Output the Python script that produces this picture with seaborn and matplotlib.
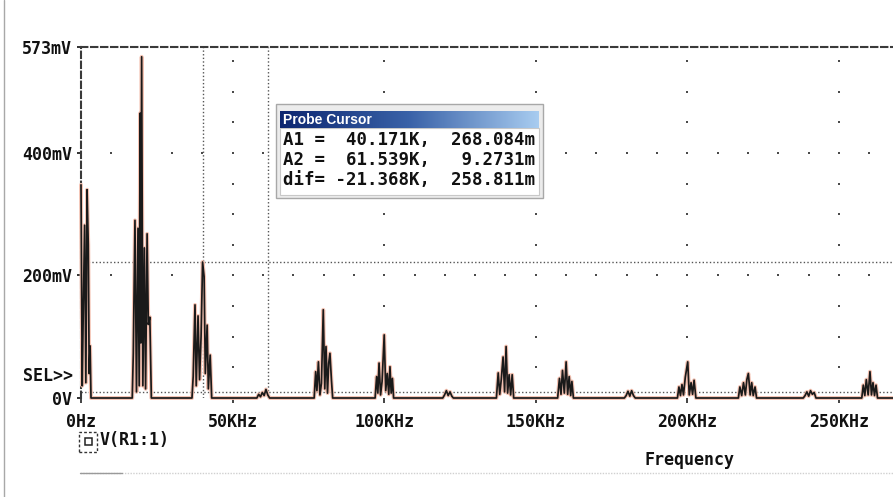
import numpy as np
import pandas as pd
import matplotlib
matplotlib.use("Agg")
import matplotlib.pyplot as plt
import seaborn as sns
from matplotlib.patches import Rectangle
from matplotlib.lines import Line2D
from matplotlib.colors import LinearSegmentedColormap

# FFT trace of V(R1:1): (frequency kHz, magnitude mV)
peak_dc = [(0.0, 348), (0.4, 20), (0.8, 160), (1.2, 282), (1.6, 25), (2.0, 340),
           (2.4, 250), (2.7, 40), (3.0, 85), (3.3, 0)]
peak_20k = [(16.9, 0), (17.25, 73), (17.8, 290), (18.3, 10), (18.8, 277), (19.2, 20),
            (19.5, 465), (19.75, 90), (20.0, 557), (20.4, 20), (20.9, 245), (21.3, 15),
            (21.8, 268), (22.2, 120), (22.7, 132), (23.2, 0)]
peak_40k = [(36.6, 0), (37.0, 35), (37.6, 152), (38.0, 20), (38.6, 134), (39.1, 30),
            (39.6, 100), (40.1, 222), (40.6, 198), (41.0, 40), (41.6, 119), (42.0, 15),
            (42.6, 70), (43.1, 0)]
peak_60k = [(58.0, 0), (58.6, 6), (59.2, 2), (59.8, 9), (60.4, 4), (61.0, 14), (61.6, 5), (62.2, 0)]
peak_80k = [(76.9, 0), (77.4, 43), (77.8, 12), (78.3, 59), (78.8, 5), (79.3, 24), (79.9, 144),
            (80.4, 15), (80.8, 84), (81.3, 8), (81.7, 57), (82.1, 73), (82.6, 29), (83.0, 0)]
peak_100k = [(97.0, 0), (97.5, 35), (97.9, 8), (98.3, 57), (98.8, 5), (99.3, 27), (100.0, 103),
             (100.5, 12), (101.0, 40), (101.5, 6), (101.9, 51), (102.3, 8), (102.7, 32), (103.1, 0)]
peak_120k = [(119.3, 0), (119.9, 5), (120.5, 12), (121.1, 4), (121.7, 10), (122.3, 3), (122.8, 0)]
peak_140k = [(137.0, 0), (137.6, 41), (138.1, 6), (138.6, 30), (139.2, 67), (139.7, 10), (140.2, 84),
             (140.7, 8), (141.2, 38), (141.7, 5), (142.2, 38), (142.7, 0)]
peak_160k = [(157.2, 0), (157.8, 32), (158.3, 6), (158.8, 45), (159.4, 8), (160.0, 59),
             (160.5, 6), (161.0, 35), (161.5, 4), (161.9, 27), (162.4, 0)]
peak_180k = [(179.2, 0), (179.8, 4), (180.4, 11), (181.0, 3), (181.6, 12), (182.2, 4), (182.8, 0)]
peak_200k = [(196.7, 0), (197.2, 18), (197.7, 4), (198.2, 22), (198.7, 5), (199.3, 34), (200.1, 59),
             (200.6, 5), (201.2, 25), (201.7, 6), (202.2, 29), (202.8, 0)]
peak_220k = [(216.8, 0), (217.3, 18), (217.9, 4), (218.5, 25), (219.1, 5), (219.6, 30), (220.1, 40),
             (220.7, 5), (221.2, 25), (221.7, 4), (222.3, 18), (222.8, 0)]
peak_240k = [(238.2, 0), (238.8, 4), (239.4, 10), (240.0, 3), (240.6, 12), (241.2, 6), (241.8, 9), (242.4, 0)]
peak_260k = [(257.5, 0), (258.0, 21), (258.5, 4), (259.0, 30), (259.6, 5), (260.2, 43), (260.7, 5),
             (261.2, 25), (261.7, 4), (262.2, 21), (262.7, 0), (275.0, 0)]

x_ticks = [0, 50, 100, 150, 200, 250]
x_labels = ["0Hz", "50KHz", "100KHz", "150KHz", "200KHz", "250KHz"]
y_ticks = [0, 200, 400, 573]
y_labels = ["0V", "200mV", "400mV", "573mV"]

# cursors as drawn on screen (A1 level line sits at ~222 mV in the screenshot)
cursor_x = [40.171, 61.539]
cursor_y = [222, 9.2731]
probe_rows = [("A1 =", "40.171K", "268.084m"),
              ("A2 =", "61.539K", "9.2731m"),
              ("dif=", "-21.368K", "258.811m")]

trace = pd.DataFrame(peak_dc + peak_20k + peak_40k + peak_60k + peak_80k + peak_100k
                     + peak_120k + peak_140k + peak_160k + peak_180k + peak_200k
                     + peak_220k + peak_240k + peak_260k, columns=["khz", "mv"])

sns.set_theme(style="white")
plt.rcParams["font.family"] = ["DejaVu Sans Mono"]
plt.rcParams["font.weight"] = "bold"
plt.rcParams["lines.scale_dashes"] = False

W, H = 893, 497
fig = plt.figure(figsize=(W / 100, H / 100), dpi=100)
fig.patch.set_facecolor("white")
ax = fig.add_axes([81 / W, 1 - 398 / H, 1 - 81 / W, (398 - 47) / H])
ax.set_facecolor("white")
ax.set_xlim(0, 267.8)
ax.set_ylim(0, 573)

# grid dots
for gx in [50, 100, 150, 200, 250]:
    ys = np.arange(50, 573, 50)
    ax.scatter(np.full(len(ys), gx), ys, s=2.5, marker="s", color="#4a4a4a", linewidths=0, zorder=1)
for gy in [200, 400]:
    xs = np.arange(10, 268, 10)
    ax.scatter(xs, np.full(len(xs), gy), s=2.5, marker="s", color="#4a4a4a", linewidths=0, zorder=1)

# cursor lines
for cx in cursor_x:
    ax.axvline(cx, color="#555555", lw=1.0, ls=(0, (1, 1.6)), zorder=2)
for cy in cursor_y:
    ax.axhline(cy, color="#555555", lw=1.0, ls=(0, (1, 1.6)), zorder=2)

# trace with the pinkish halo of the screenshot
sns.lineplot(data=trace, x="khz", y="mv", estimator=None, sort=False, color="#f4c2b2",
             lw=2.8, ax=ax, zorder=3, clip_on=False)
sns.lineplot(data=trace, x="khz", y="mv", estimator=None, sort=False, color="#1a1a1a",
             lw=1.25, ax=ax, zorder=4, clip_on=False)

ax.set_xlabel("")
ax.set_ylabel("")
for side in ["right", "bottom"]:
    ax.spines[side].set_visible(False)
for side in ["top", "left"]:
    ax.spines[side].set_visible(True)
    ax.spines[side].set_color("#3a3a3a")
    ax.spines[side].set_linewidth(1.5)
    ax.spines[side].set_linestyle((0, (4.6, 2.6)))

ax.set_xticks(x_ticks)
ax.set_xticklabels(x_labels)
ax.set_yticks(y_ticks)
ax.set_yticklabels(y_labels)
ax.tick_params(axis="x", bottom=True, direction="out", length=3.5, width=1.2, pad=7,
               color="#222222", labelsize=12, labelcolor="#111111")
ax.tick_params(axis="y", left=True, direction="out", length=3, width=1.3, pad=3.6,
               color="#222222", labelsize=12, labelcolor="#111111")


def fx(x):
    return x / W


def fy(y):
    return 1 - y / H


fig.text(fx(73), fy(376), "SEL>>", ha="right", va="center", fontsize=12, color="#111111")

# legend entry
fig.add_artist(Rectangle((fx(79), fy(452)), 18 / W, 20 / H, transform=fig.transFigure,
                         fill=False, ec="#333333", lw=1.0, ls=(0, (2, 1.5))))
fig.add_artist(Rectangle((fx(85), fy(445)), 7 / W, 7 / H, transform=fig.transFigure,
                         fill=False, ec="#222222", lw=1.1))
fig.text(fx(100), fy(440), "V(R1:1)", ha="left", va="center", fontsize=12, color="#111111")
fig.text(fx(689), fy(465), "Frequency", ha="center", va="baseline", fontsize=12, color="#111111")

# bottom status line and window border
fig.add_artist(Line2D([fx(80), fx(893)], [fy(473), fy(473)], transform=fig.transFigure,
                      color="#d0d0d0", lw=1.0, ls=(0, (1, 1))))
fig.add_artist(Line2D([fx(80), fx(122)], [fy(473), fy(473)], transform=fig.transFigure,
                      color="#9a9a9a", lw=1.0))
fig.add_artist(Line2D([fx(4), fx(4)], [fy(0), fy(497)], transform=fig.transFigure,
                      color="#a8a8a8", lw=1.0))

# Probe Cursor window
fig.add_artist(Rectangle((fx(276), fy(198)), 267 / W, 94 / H, transform=fig.transFigure,
                         fc="#ececec", ec="#a8a8a8", lw=1.0, zorder=3))
fig.add_artist(Rectangle((fx(280), fy(195)), 259 / W, 67 / H, transform=fig.transFigure,
                         fc="white", ec="#c8c8c8", lw=0.8, zorder=4))
bar = fig.add_axes([fx(280), fy(128), 259 / W, 17 / H], zorder=5)
title_cmap = LinearSegmentedColormap.from_list("title", ["#0c2670", "#3a62a8", "#a8ccf0"])
bar.imshow(np.linspace(0, 1, 256)[None, :], aspect="auto", cmap=title_cmap)
bar.set_axis_off()
fig.text(fx(283), fy(119.5), "Probe Cursor", ha="left", va="center", fontsize=10,
         family=["Liberation Sans", "DejaVu Sans"], weight="bold", color="white", zorder=6)
for (lab, xv, yv), ry in zip(probe_rows, [140, 160, 180]):
    row = f"{lab} {xv:>8}, {yv:>9}"
    fig.text(fx(283), fy(ry), row, ha="left", va="center", fontsize=12.5,
             color="#111111", zorder=6)

fig.savefig("out.png", dpi=100)
